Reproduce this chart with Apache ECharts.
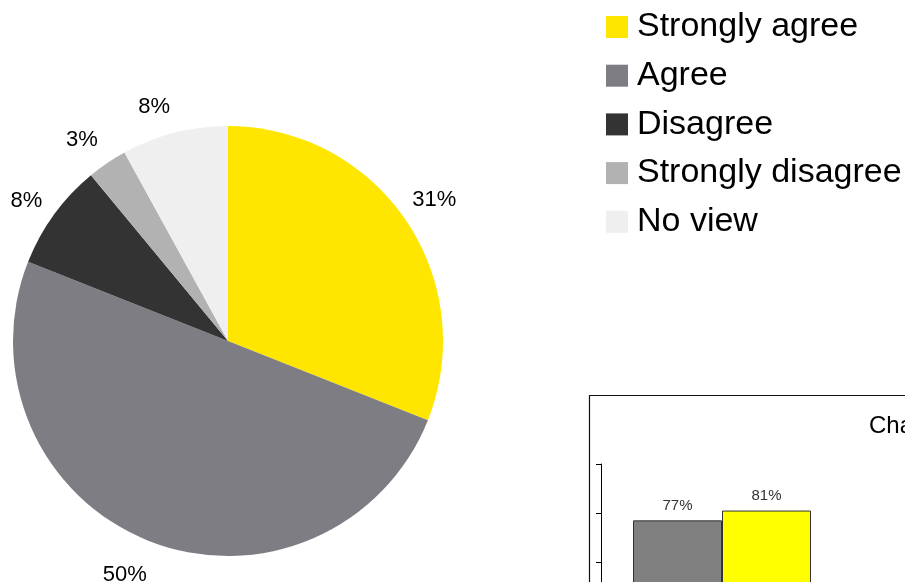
<!DOCTYPE html>
<html>
<head>
<meta charset="utf-8">
<script src="https://cdn.jsdelivr.net/npm/echarts@6/dist/echarts.min.js"></script>
<style>
  html, body { margin: 0; padding: 0; background: #fff; }
  #chart { width: 905px; height: 582px; }
</style>
</head>
<body>
<div id="chart"></div>
<script>
// Survey responses (percent of respondents)
var responseNames = ['Strongly agree', 'Agree', 'Disagree', 'Strongly disagree', 'No view'];
var responseValues = [31, 50, 8, 3, 8];
var responseColors = ['#FFE600', '#7E7D84', '#333333', '#B2B2B2', '#EFEFEF'];
// small hand adjustments of the percentage labels, in pixels
var labelNudge = [[-3, 1], [-10, -1], [3, 9], [-4, 8], [-11, 11]];

// Small comparison chart in the lower right
var barCategories = ['Category 1'];
var barSeriesNames = ['Series 1', 'Series 2'];
var barSeriesValues = [[77], [81]];
var barColors = ['#808080', '#FFFF00'];
var barTitle = 'Chart Title';

var FONT = 'Liberation Sans, Arial, sans-serif';

var pieData = responseNames.map(function (n, i) {
  return { name: n, value: responseValues[i], itemStyle: { color: responseColors[i] } };
});

var labelData = responseNames.map(function (n, i) {
  return { name: n, value: responseValues[i], label: { offset: labelNudge[i] } };
});

var chart = echarts.init(document.getElementById('chart'), null, { renderer: 'canvas' });

chart.setOption({
  animation: false,
  backgroundColor: '#fff',
  textStyle: { fontFamily: FONT },
  title: {
    text: barTitle,
    left: 864,
    top: 409,
    textStyle: { fontFamily: FONT, fontSize: 24, fontWeight: 'normal', color: '#000' }
  },
  legend: {
    data: responseNames,
    orient: 'vertical',
    left: 601,
    top: 5,
    icon: 'rect',
    itemWidth: 22,
    itemHeight: 22,
    itemGap: 14.7,
    selectedMode: false,
    textStyle: { fontFamily: FONT, fontSize: 34, color: '#000', lineHeight: 34, padding: [0, 0, 0, 4] }
  },
  graphic: [{
    type: 'rect',
    shape: { x: 589.5, y: 395.5, width: 420, height: 300 },
    style: { fill: 'none', stroke: '#111', lineWidth: 1.2 },
    silent: true,
    z: 0
  }],
  grid: { left: 601, top: 464, width: 242, height: 245, outerBoundsMode: 'none', containLabel: false },
  xAxis: {
    type: 'category',
    data: barCategories,
    axisLine: { lineStyle: { color: '#000' } },
    axisTick: { show: false },
    axisLabel: { show: false }
  },
  yAxis: {
    type: 'value',
    min: 0,
    max: 100,
    interval: 20,
    axisLine: { show: true, lineStyle: { color: '#000', width: 1 } },
    axisTick: { show: true, length: 5, lineStyle: { color: '#000' } },
    axisLabel: { show: false },
    splitLine: { show: false }
  },
  series: [
    {
      type: 'pie',
      name: 'Responses',
      center: [228, 341],
      radius: 215,
      startAngle: 90,
      clockwise: true,
      silent: true,
      label: { show: false },
      labelLine: { show: false },
      itemStyle: { borderWidth: 0 },
      data: pieData
    },
    {
      // Transparent ring that carries the percentage labels around the pie
      type: 'pie',
      name: 'Labels',
      center: [228, 341],
      radius: [238, 262],
      startAngle: 90,
      clockwise: true,
      silent: true,
      itemStyle: { color: 'rgba(0,0,0,0)', borderWidth: 0 },
      label: {
        show: true,
        position: 'inside',
        formatter: '{c}%',
        fontFamily: FONT,
        fontSize: 22,
        color: '#000'
      },
      labelLine: { show: false },
      emphasis: { disabled: true },
      data: labelData
    }
  ].concat(barSeriesNames.map(function (n, i) {
    return {
      type: 'bar',
      name: n,
      data: barSeriesValues[i],
      barWidth: 89,
      barGap: '0%',
      silent: true,
      itemStyle: { color: barColors[i], borderColor: '#333', borderWidth: 1 },
      label: {
        show: true,
        position: 'top',
        distance: 7,
        formatter: '{c}%',
        fontFamily: FONT,
        fontSize: 15,
        color: '#333'
      }
    };
  }))
});
</script>
</body>
</html>
